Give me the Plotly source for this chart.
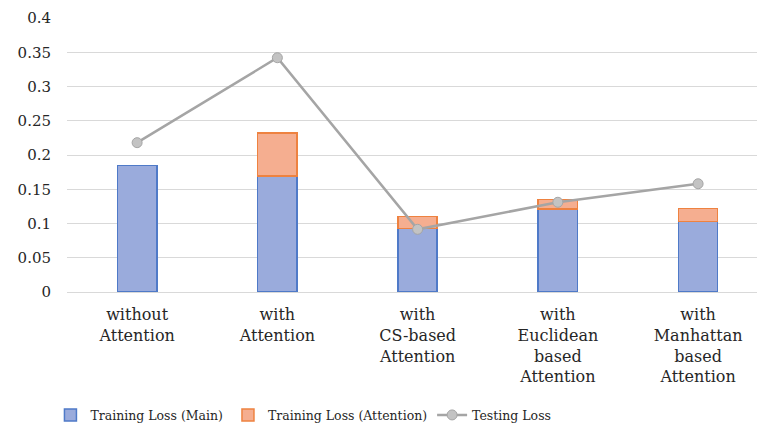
import plotly.graph_objects as go

categories = [
    "without<br>Attention",
    "with<br>Attention",
    "with<br>CS-based<br>Attention",
    "with<br>Euclidean<br>based<br>Attention",
    "with<br>Manhattan<br>based<br>Attention",
]
train_main = [0.185, 0.169, 0.093, 0.121, 0.103]
train_attention = [None, 0.063, 0.017, 0.014, 0.019]
testing_loss = [0.218, 0.342, 0.0915, 0.131, 0.158]
y_ticks = [0, 0.05, 0.1, 0.15, 0.2, 0.25, 0.3, 0.35, 0.4]
y_tick_labels = ["0", "0.05", "0.1", "0.15", "0.2", "0.25", "0.3", "0.35", "0.4"]

serif = "DejaVu Serif"
text_color = "#262626"

fig = go.Figure()
fig.add_trace(go.Bar(
    x=categories, y=train_main, name="Training Loss (Main)",
    marker=dict(color="#9aabdc", line=dict(color="#4f7ac8", width=1.5)),
    width=0.28,
))
fig.add_trace(go.Bar(
    x=categories, y=train_attention, name="Training Loss (Attention)",
    marker=dict(color="#f5ae90", line=dict(color="#ee8240", width=1.5)),
    width=0.28,
))
fig.add_trace(go.Scatter(
    x=categories, y=testing_loss, name="Testing Loss",
    mode="lines+markers",
    line=dict(color="#a5a5a5", width=2.5),
    marker=dict(size=10, color="#c3c3c3", line=dict(color="#a5a5a5", width=1)),
))

fig.update_layout(
    width=757, height=432,
    margin=dict(l=67, r=0, t=18, b=140),
    barmode="stack",
    plot_bgcolor="white", paper_bgcolor="white",
    font=dict(family=serif, color=text_color),
    legend=dict(
        orientation="h", x=-0.024, xanchor="left", y=-0.45, yanchor="middle",
        font=dict(family=serif, size=12.5, color=text_color),
        traceorder="normal", itemwidth=30,
    ),
)
fig.update_xaxes(
    range=[-0.5, 4.42], showgrid=False, showline=False,
    tickfont=dict(family=serif, size=16, color=text_color),
    ticks="", ticklabelstandoff=11,
)
fig.update_yaxes(
    range=[0, 0.4], tickvals=y_ticks, ticktext=y_tick_labels,
    showgrid=True, gridcolor="#d9d9d9", gridwidth=1,
    zeroline=True, zerolinecolor="#d9d9d9", zerolinewidth=1,
    showline=False, ticks="",
    tickfont=dict(family=serif, size=15, color=text_color),
    ticklabelstandoff=15,
)

fig.write_html("out.html")
